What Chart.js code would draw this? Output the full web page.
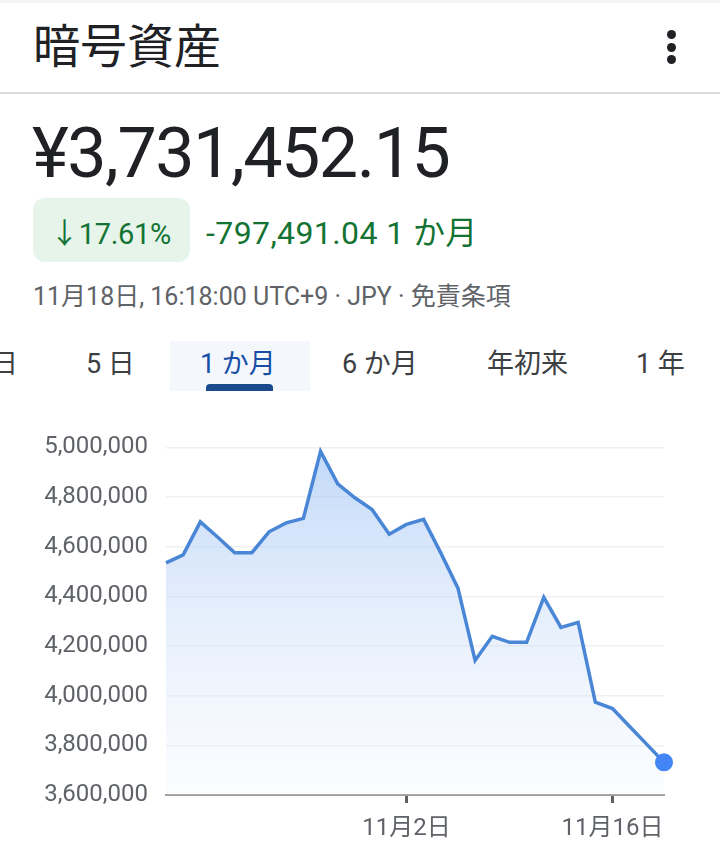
<!DOCTYPE html>
<html lang="ja">
<head>
<meta charset="utf-8">
<script src="https://cdn.jsdelivr.net/npm/chart.js@4"></script>
<style>
  body { margin: 0; width: 720px; height: 854px; background: #fff; overflow: hidden;
         font-family: Roboto, "Noto Sans CJK JP", sans-serif; position: relative; }
  .topline { position: absolute; left: 0; top: 0; width: 720px; height: 3px; background: #f4f4f4; }
  .header { position: absolute; left: 0; top: 3px; width: 720px; height: 89px; border-bottom: 2px solid #dcdcdc; }
  .title { position: absolute; left: 33px; top: 5px; font-size: 47px; color: #202124; font-family: "Noto Sans CJK JP"; }
  .kebab { position: absolute; left: 667px; top: 27px; }
  .kebab span { display: block; width: 9px; height: 9px; border-radius: 50%; background: #202124; margin-bottom: 3.5px; }
  .price { position: absolute; left: 32px; top: 112px; font-size: 70px; color: #202124; letter-spacing: -1.5px; }
  .badge { position: absolute; left: 33px; top: 198px; width: 157px; height: 64px; border-radius: 12px; background: #e6f4ea; }
  .badge div { position: absolute; left: 17px; top: 12px; font-size: 29px; color: #137333; letter-spacing: -0.3px; }
  .change { position: absolute; left: 206px; top: 207px; font-size: 32px; color: #137333; letter-spacing: 0.4px; }
  .change .jp { font-family: "Noto Sans CJK JP"; }
  .meta { position: absolute; left: 33px; top: 276px; font-size: 25px; color: #5f6368; }
  .tabsel { position: absolute; left: 170px; top: 341px; width: 140px; height: 50px; background: #f4f8fd; }
  .tab { position: absolute; top: 342px; font-size: 27px; color: #3c4043; white-space: nowrap; }
  .tab.on { color: #174ea6; }
  .bar { position: absolute; left: 206px; top: 384px; width: 67px; height: 7px; background: #1a4a8c; border-radius: 4px 4px 0 0; }
  #wrap { position: absolute; left: 0; top: 415px; width: 720px; height: 439px; }
</style>
</head>
<body>
<div class="topline"></div>
<div class="header">
  <div class="title">暗号資産</div>
  <div class="kebab"><span></span><span></span><span></span></div>
</div>
<div class="price">¥3,731,452.15</div>
<div class="badge"><div>↓17.61%</div></div>
<div class="change">-797,491.04 1 <span class="jp">か月</span></div>
<div class="meta">11月18日, 16:18:00 UTC+9 · JPY · 免責条項</div>
<div class="tabsel"></div>
<div class="tab" style="left:-9px">日</div>
<div class="tab" style="left:86px">5 日</div>
<div class="tab on" style="left:200px">1 か月</div>
<div class="tab" style="left:342px">6 か月</div>
<div class="tab" style="left:487px">年初来</div>
<div class="tab" style="left:636px">1 年</div>
<div class="bar"></div>
<div id="wrap"><canvas id="chart1"></canvas></div>
<script>
const dates = [
  "10月19日", "10月20日", "10月21日", "10月22日", "10月23日", "10月24日", "10月25日",
  "10月26日", "10月27日", "10月28日", "10月29日", "10月30日", "10月31日", "11月1日",
  "11月2日", "11月3日", "11月4日", "11月5日", "11月6日", "11月8日", "11月9日",
  "11月10日", "11月11日", "11月12日", "11月14日", "11月15日", "11月16日", "11月17日",
  "11月18日 0:00", "11月18日 16:18"
];
const values = [
  4535000, 4567000, 4700000, 4639000, 4576000, 4576000, 4660000,
  4696000, 4714000, 4984000, 4853000, 4797000, 4750000, 4650000,
  4690000, 4710000, 4575000, 4433000, 4142000, 4239000, 4215000,
  4215000, 4396000, 4275000, 4295000, 3974000, 3948000, 3876000,
  3804000, 3731452
];
const shownTicks = ["11月2日", "11月16日"];
const yMin = 3600000, yMax = 5000000, yStep = 200000;

const font = { family: 'Roboto, "Noto Sans CJK JP"', size: 24 };

const myChart = new Chart(document.getElementById('chart1'), {
  type: 'line',
  data: {
    labels: dates,
    datasets: [{
      data: values,
      borderColor: '#4a86d6',
      borderWidth: 3.5,
      tension: 0,
      fill: 'start',
      backgroundColor: (ctx) => {
        const area = ctx.chart.chartArea;
        if (!area) return 'rgba(66,133,244,0.15)';
        const g = ctx.chart.ctx.createLinearGradient(0, area.top, 0, area.bottom);
        g.addColorStop(0, 'rgba(160,195,245,0.65)');
        g.addColorStop(1, 'rgba(225,236,252,0.15)');
        return g;
      },
      pointRadius: values.map((v, i) => i === values.length - 1 ? 9 : 0),
      pointBackgroundColor: '#4285f4',
      pointBorderWidth: 0,
      clip: false
    }]
  },
  options: {
    responsive: true,
    maintainAspectRatio: false,
    animation: false,
    layout: { padding: { top: 21, right: 56, left: 0, bottom: 0 } },
    plugins: { legend: { display: false }, tooltip: { enabled: false } },
    scales: {
      x: {
        offset: false,
        border: { color: '#9e9e9e', width: 2 },
        grid: { drawOnChartArea: false, drawTicks: true, tickLength: 8, tickColor: '#616161', tickWidth: 3 },
        ticks: {
          autoSkip: false, maxRotation: 0, padding: 12, color: '#5f6368', font,
          callback: (v, i) => shownTicks.includes(dates[i]) ? dates[i] : null
        },
        afterFit: (s) => { s.height = 59; }
      },
      y: {
        min: yMin, max: yMax,
        border: { display: false },
        grid: { color: '#f0f0f0', lineWidth: 1.5, drawTicks: false },
        ticks: {
          stepSize: yStep, padding: 18, color: '#5f6368', font,
          callback: (v) => v.toLocaleString('en-US')
        },
        afterFit: (s) => { s.width = 166; }
      }
    }
  }
});
</script>
</body>
</html>
